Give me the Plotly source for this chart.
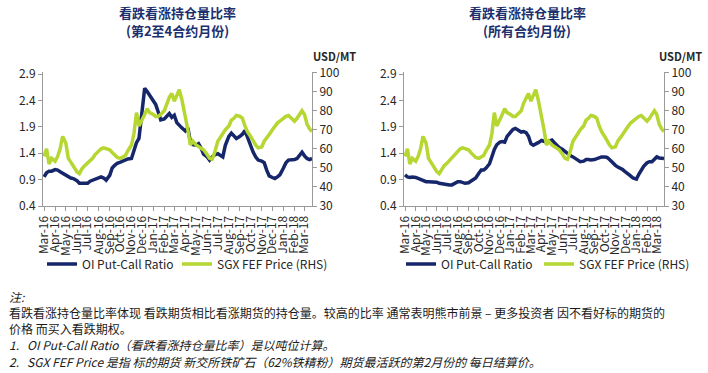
import plotly.graph_objects as go

# ---------------- data ----------------
months = ["2016-03", "2016-04", "2016-05", "2016-06", "2016-07", "2016-08", "2016-09",
          "2016-10", "2016-11", "2016-12", "2017-01", "2017-02", "2017-03", "2017-04",
          "2017-05", "2017-06", "2017-07", "2017-08", "2017-09", "2017-10", "2017-11",
          "2017-12", "2018-01", "2018-02", "2018-03"]
days = ["01", "08", "15", "22"]
dates = [f"{m}-{d}" for m in months for d in days]

# SGX FEF price (USD/MT), weekly
fef_price = [56, 60, 52, 55, 53.5, 56, 60, 66.5, 63, 55, 53, 51, 48, 47, 49.5, 51,
             52.5, 54, 55, 57, 59, 60, 60.5, 60, 59.5, 58, 57, 55.5, 55, 56, 56.5, 59,
             62, 68, 79, 72, 76, 78, 81, 79, 78, 77, 77, 78, 80, 84, 87, 89,
             85, 88, 91, 86, 77, 70, 62, 64, 62, 61, 60.5, 59.5, 57, 55, 54.5, 58,
             64, 66, 68, 70, 72, 75, 76, 77.5, 77, 76, 72, 69, 66.5, 64, 62, 60.5,
             61, 64, 65.5, 67.5, 70, 72, 73.5, 74.5, 76, 77, 77.5, 76, 74.5, 76, 78, 80,
             78, 73, 70.5, 69]

# OI put-call ratio, 2nd to 4th contract months
pcr_2to4 = [0.95, 1.03, 1.06, 1.06, 1.09, 1.08, 1.05, 1.02, 0.98, 0.95, 0.93, 0.92,
            0.88, 0.83, 0.83, 0.83, 0.83, 0.87, 0.89, 0.91, 0.93, 0.95, 0.93, 0.89,
            0.98, 1.12, 1.17, 1.21, 1.23, 1.25, 1.26, 1.29, 1.30, 1.47, 1.60, 1.68,
            2.30, 2.63, 2.57, 2.50, 2.42, 2.32, 2.18, 2.03, 2.05, 2.10, 2.15, 2.08,
            2.12, 1.98, 1.94, 1.88, 1.82, 1.88, 1.62, 1.56, 1.55, 1.58, 1.50, 1.38,
            1.33, 1.27, 1.33, 1.37, 1.39, 1.36, 1.33, 1.55, 1.72, 1.78, 1.72, 1.68,
            1.72, 1.76, 1.83, 1.70, 1.55, 1.42, 1.33, 1.27, 1.25, 1.22, 1.08, 0.97,
            0.94, 0.92, 0.95, 0.99, 1.12, 1.22, 1.27, 1.27, 1.28, 1.30, 1.36, 1.42,
            1.35, 1.30, 1.28, 1.30]

# OI put-call ratio, all contract months
pcr_all = [0.99, 0.95, 0.94, 0.95, 0.94, 0.92, 0.89, 0.88, 0.86, 0.86, 0.86, 0.86,
           0.85, 0.83, 0.82, 0.81, 0.80, 0.80, 0.80, 0.83, 0.86, 0.86, 0.85, 0.83,
           0.84, 0.87, 0.89, 0.93, 1.02, 1.08, 1.08, 1.12, 1.20, 1.35, 1.47, 1.56,
           1.61, 1.62, 1.61, 1.72, 1.80, 1.85, 1.87, 1.84, 1.80, 1.81, 1.79, 1.72,
           1.58, 1.55, 1.57, 1.60, 1.64, 1.63, 1.61, 1.63, 1.65, 1.60, 1.55, 1.51,
           1.47, 1.43, 1.40, 1.36, 1.33, 1.30, 1.27, 1.24, 1.25, 1.28, 1.28, 1.27,
           1.28, 1.30, 1.32, 1.33, 1.33, 1.32, 1.28, 1.23, 1.17, 1.14, 1.12, 1.09,
           1.04, 1.01, 0.97, 0.93, 0.91, 1.00, 1.08, 1.15, 1.22, 1.24, 1.24, 1.28,
           1.33, 1.31, 1.30, 1.30]

tick_vals = [f"{m}-01" for m in months]
tick_text = ["Mar-16", "Apr-16", "May-16", "Jun-16", "Jul-16", "Aug-16", "Sep-16",
             "Oct-16", "Nov-16", "Dec-16", "Jan-17", "Feb-17", "Mar-17", "Apr-17",
             "May-17", "Jun-17", "Jul-17", "Aug-17", "Sep-17", "Oct-17", "Nov-17",
             "Dec-17", "Jan-18", "Feb-18", "Mar-18"]

titles = [("看跌看涨持仓量比率", "(第2至4合约月份)"), ("看跌看涨持仓量比率", "(所有合约月份)")]
name_ratio = "OI Put-Call Ratio"
name_price = "SGX FEF Price (RHS)"

notes = [
    "<i>注:</i>",
    "看跌看涨持仓量比率体现 看跌期货相比看涨期货的持仓量。较高的比率 通常表明熊市前景 – 更多投资者 因不看好标的期货的",
    "价格 而买入看跌期权。",
    "<i>1.   OI Put-Call Ratio（看跌看涨持仓量比率）是以吨位计算。</i>",
    "<i>2.   SGX FEF Price 是指 标的期货 新交所铁矿石（62%铁精粉）期货最活跃的第2月份的 每日结算价。</i>",
]

# ---------------- style ----------------
W, H = 708, 373
NAVY = "#16266b"
GREEN = "#b6d631"
AXC = "#9a9a9a"
TXT = "#262626"
FONT = "Noto Sans CJK SC, Noto Sans, Liberation Sans, sans-serif"

fig = go.Figure()
fig.add_trace(go.Scatter(x=dates, y=pcr_2to4, name=name_ratio, mode="lines", showlegend=True,
                         line=dict(color=NAVY, width=3.5), xaxis="x", yaxis="y", legend="legend"))
fig.add_trace(go.Scatter(x=dates, y=fef_price, name=name_price, mode="lines", showlegend=True,
                         line=dict(color=GREEN, width=3.5), xaxis="x", yaxis="y2", legend="legend2"))
fig.add_trace(go.Scatter(x=dates, y=pcr_all, name=name_ratio, mode="lines", showlegend=True,
                         line=dict(color=NAVY, width=3.5), xaxis="x2", yaxis="y3", legend="legend3"))
fig.add_trace(go.Scatter(x=dates, y=fef_price, name=name_price, mode="lines", showlegend=True,
                         line=dict(color=GREEN, width=3.5), xaxis="x2", yaxis="y4", legend="legend4"))

ydom = [1 - 206 / H, 1 - 72 / H]
xrange_ = ["2016-02-27", "2018-03-22"]

def xaxis(dom, anchor):
    return dict(domain=dom, anchor=anchor, type="date", range=xrange_,
                tickvals=tick_vals, ticktext=tick_text, tickangle=-90,
                showline=True, linecolor=AXC, linewidth=1, ticks="outside",
                tickcolor=AXC, ticklen=4, showgrid=False, zeroline=False, automargin=False,
                tickfont=dict(size=12, color=TXT, family=FONT))

def yleft(anchor):
    return dict(domain=ydom, anchor=anchor, range=[0.4, 2.938], tickvals=[0.4, 0.9, 1.4, 1.9, 2.4, 2.9],
                tickformat=".1f", showline=True, linecolor=AXC, ticks="outside",
                tickcolor=AXC, ticklen=4, showgrid=False, zeroline=False, automargin=False,
                tickfont=dict(size=12, color=TXT, family=FONT))

def yright(anchor, over):
    return dict(overlaying=over, side="right", anchor=anchor, range=[30, 100.3], dtick=10,
                showline=True, linecolor=AXC, ticks="outside", tickcolor=AXC, ticklen=4,
                showgrid=False, zeroline=False, automargin=False,
                tickfont=dict(size=12, color=TXT, family=FONT))

def legend_at(px):
    return dict(orientation="h", x=px / W, y=1 - 264 / H, yanchor="middle", xanchor="left",
                font=dict(size=12, color=TXT, family=FONT), bgcolor="rgba(0,0,0,0)",
                itemwidth=30)

ann = []
for cx, (t1, t2) in zip([177 / W, 527 / W], titles):
    ann.append(dict(x=cx, y=1 - 12 / H, xref="paper", yref="paper", text=f"<b>{t1}</b>",
                    xanchor="center", yanchor="middle",
                    showarrow=False, font=dict(size=13, color="#1c2f6e", family=FONT)))
    ann.append(dict(x=cx, y=1 - 30 / H, xref="paper", yref="paper", text=f"<b>{t2}</b>",
                    xanchor="center", yanchor="middle",
                    showarrow=False, font=dict(size=13, color="#1c2f6e", family=FONT)))
for ux in [334 / W, 680 / W]:
    ann.append(dict(x=ux, y=1 - 56 / H, xref="paper", yref="paper", text="<b>USD/MT</b>",
                    xanchor="center", yanchor="middle",
                    showarrow=False, font=dict(size=11, color=TXT, family=FONT)))
for i, line in enumerate(notes):
    ann.append(dict(x=7 / W, y=1 - (296 + 16.3 * i) / H, xref="paper", yref="paper",
                    xanchor="left", yanchor="middle", text=line, showarrow=False,
                    font=dict(size=12, color="#1a1a1a", family=FONT)))

fig.update_layout(
    width=W, height=H, margin=dict(l=0, r=0, t=0, b=0, autoexpand=False),
    paper_bgcolor="white", plot_bgcolor="white", showlegend=True,
    font=dict(family=FONT, color=TXT),
    xaxis=xaxis([43 / W, 312 / W], "y"),
    yaxis=yleft("x"),
    yaxis2=yright("x", "y"),
    xaxis2=xaxis([404 / W, 664 / W], "y3"),
    yaxis3=yleft("x2"),
    yaxis4=yright("x2", "y3"),
    legend=legend_at(42),
    legend2=legend_at(177),
    legend3=legend_at(401),
    legend4=legend_at(539),
    annotations=ann,
)

fig.write_html("out.html", config={"displayModeBar": False},
               post_script="document.body.style.margin='0';document.body.style.overflow='hidden';")
